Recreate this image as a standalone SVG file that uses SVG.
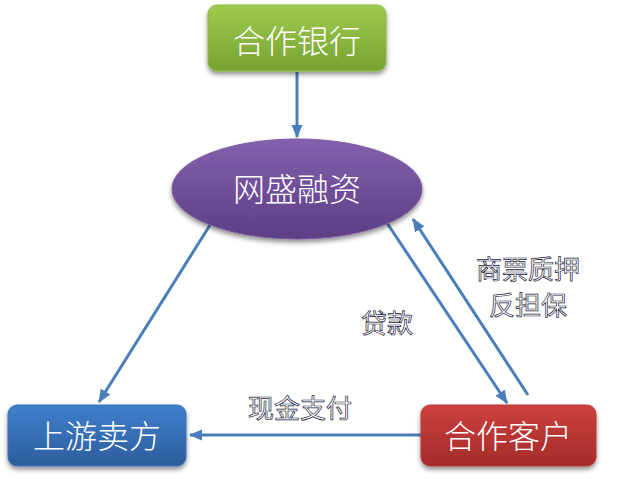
<svg xmlns="http://www.w3.org/2000/svg" width="624" height="479" viewBox="0 0 624 479">
<style>
.node-text{font-family:"Noto Sans CJK SC","Noto Sans",sans-serif;font-size:32px;font-weight:300;fill:#ffffff;text-anchor:middle;}
.lbl{font-family:"Noto Sans CJK SC","Noto Sans",sans-serif;font-size:26px;fill:#ffffff;stroke:#1a1a3a;stroke-width:0.7;text-anchor:middle;}
.conn{stroke:#4a7ebb;stroke-width:3;fill:none;marker-end:url(#ah);}
</style>
<defs>
<marker id="ah" viewBox="0 0 12 10" refX="11" refY="5" markerWidth="4.5" markerHeight="4" orient="auto" markerUnits="strokeWidth">
<path d="M0,0 L12,5 L0,10 Z" fill="#4a7ebb"/>
</marker>
<linearGradient id="gGreen" x1="0" y1="0" x2="0" y2="1"><stop offset="0" stop-color="#9fcb4e"/><stop offset="1" stop-color="#76a232"/></linearGradient>
<linearGradient id="gPurple" x1="0" y1="0" x2="0" y2="1"><stop offset="0" stop-color="#8360ad"/><stop offset="1" stop-color="#5c3e84"/></linearGradient>
<linearGradient id="gBlue" x1="0" y1="0" x2="0" y2="1"><stop offset="0" stop-color="#3f7fcc"/><stop offset="1" stop-color="#2d5d9c"/></linearGradient>
<linearGradient id="gRed" x1="0" y1="0" x2="0" y2="1"><stop offset="0" stop-color="#cc403d"/><stop offset="1" stop-color="#a32c2a"/></linearGradient>
<filter id="sh" x="-10%" y="-10%" width="120%" height="135%">
<feGaussianBlur in="SourceAlpha" stdDeviation="2.5"/>
<feOffset dx="0" dy="3" result="b"/>
<feComponentTransfer><feFuncA type="linear" slope="0.45"/></feComponentTransfer>
<feMerge><feMergeNode/><feMergeNode in="SourceGraphic"/></feMerge>
</filter>
</defs>
<g id="connectors">
<line class="conn" x1="297" y1="72" x2="297" y2="137"/>
<line class="conn" x1="210" y1="225" x2="99" y2="402"/>
<line class="conn" x1="387" y1="223" x2="507" y2="403"/>
<line class="conn" x1="528" y1="395" x2="413" y2="219"/>
<line class="conn" x1="421" y1="435" x2="190" y2="435"/>
</g>
<g id="labels">
<text class="lbl" x="528" y="279">商票质押</text>
<text class="lbl" x="528" y="315">反担保</text>
<text class="lbl" x="387" y="333">贷款</text>
<text class="lbl" x="300" y="418">现金支付</text>
</g>
<g id="node-bank">
<rect x="208" y="5" width="178" height="66" rx="9" fill="url(#gGreen)" stroke="#8cb845" stroke-width="1" filter="url(#sh)"/>
<text class="node-text" x="297" y="53">合作银行</text>
</g>
<g id="node-wangsheng">
<ellipse cx="297" cy="189" rx="125" ry="50" fill="url(#gPurple)" stroke="#7a5aa0" stroke-width="1" filter="url(#sh)"/>
<text class="node-text" x="297" y="201">网盛融资</text>
</g>
<g id="node-seller">
<rect x="8" y="405" width="178" height="61" rx="9" fill="url(#gBlue)" stroke="#3c72b5" stroke-width="1" filter="url(#sh)"/>
<text class="node-text" x="97" y="448">上游卖方</text>
</g>
<g id="node-customer">
<rect x="421" y="405" width="175" height="61" rx="9" fill="url(#gRed)" stroke="#bd3a38" stroke-width="1" filter="url(#sh)"/>
<text class="node-text" x="508" y="448">合作客户</text>
</g>
</svg>
